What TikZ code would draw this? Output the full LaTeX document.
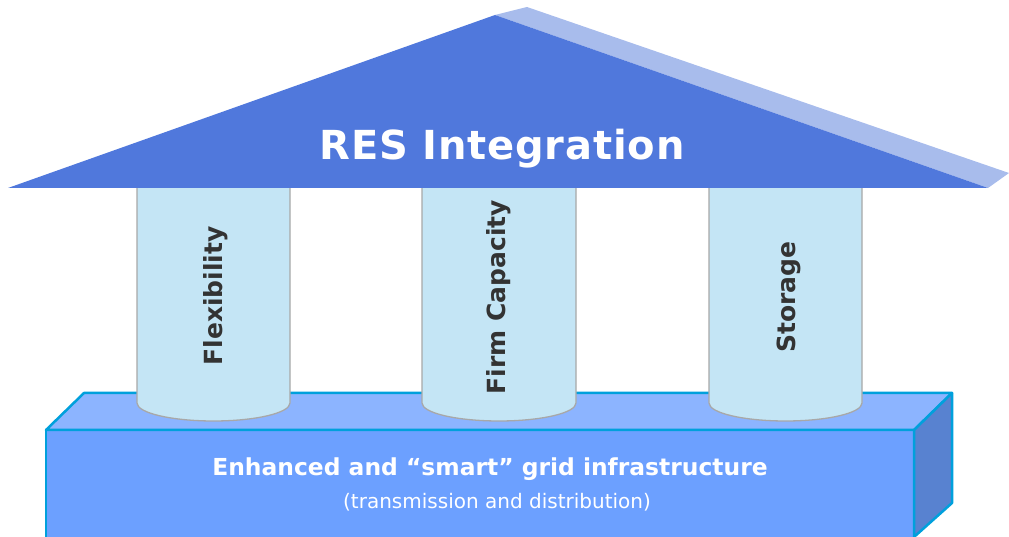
\documentclass[tikz,border=0pt]{standalone}
\usepackage{fontspec}
\setmainfont{DejaVu Sans}
\definecolor{roofblue}{HTML}{5078DC}
\definecolor{roofedge}{HTML}{A8BCEC}
\definecolor{pillarfill}{HTML}{C4E5F5}
\definecolor{pillarline}{HTML}{A8A8A8}
\definecolor{basetop}{HTML}{8CB4FF}
\definecolor{basefront}{HTML}{6CA0FF}
\definecolor{baseside}{HTML}{5882D0}
\definecolor{baseline}{HTML}{00A0DC}
\definecolor{labelgray}{HTML}{333333}
\tikzset{
  pillar/.style={fill=pillarfill,draw=pillarline,line width=1.3pt},
  basepart/.style={draw=baseline,line width=2.5pt,line join=round},
  pillarlabel/.style={rotate=90,text=labelgray,font=\bfseries\fontsize{25}{29}\selectfont}
}
\begin{document}
\begin{tikzpicture}[x=1pt,y=1pt]
  \useasboundingbox (0,0) rectangle (1009,537);
  % grid base
  \draw[basepart,fill=basefront] (46,-5) -- (46,107) -- (914,107) -- (914,-5);
  \draw[basepart,fill=basetop] (46,107) -- (84,144) -- (952,144) -- (914,107) -- cycle;
  \draw[basepart,fill=baseside] (914,107) -- (952,144) -- (952,34) -- (914,0) -- cycle;
  \node[text=white,font=\bfseries\fontsize{23.4}{27}\selectfont] (grid) at (490,68)
    {Enhanced and “smart” grid infrastructure};
  \node[text=white,font=\fontsize{20}{24}\selectfont] (griddetail) at (497,35)
    {(transmission and distribution)};
  % pillars
  \filldraw[pillar] (137,349) -- (137,134)
    arc[start angle=180,end angle=360,x radius=76.5,y radius=18] -- (290,349);
  \filldraw[pillar] (422,349) -- (422,134)
    arc[start angle=180,end angle=360,x radius=77,y radius=18] -- (576,349);
  \filldraw[pillar] (709,349) -- (709,134)
    arc[start angle=180,end angle=360,x radius=76.5,y radius=18] -- (862,349);
  \node[pillarlabel] (flex) at (216,241) {Flexibility};
  \node[pillarlabel] (firm) at (499,240) {Firm Capacity};
  \node[pillarlabel] (store) at (789,240) {Storage};
  % roof
  \fill[roofedge] (495,522) -- (527,530) -- (1009,364) -- (988,349) -- cycle;
  \fill[roofblue] (8,349) -- (495,522) -- (988,349) -- cycle;
  \node[text=white,font=\bfseries\fontsize{40}{46}\selectfont\addfontfeatures{LetterSpace=2}]
    (res) at (502,388) {RES Integration};
\end{tikzpicture}
\end{document}
